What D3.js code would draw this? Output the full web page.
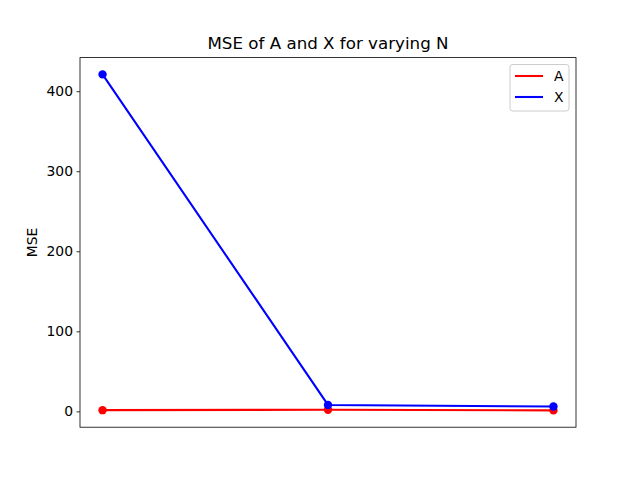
<!DOCTYPE html>
<html><head><meta charset="utf-8">
<script src="https://cdn.jsdelivr.net/npm/d3@7"></script>
<style>body{margin:0;background:#fff}svg{font-family:"DejaVu Sans",sans-serif}</style>
</head><body><svg id="c" width="640" height="480"></svg>
<script>
const nLabels = ["N1","N2","N3"];
const seriesA = [1.5, 2.0, 1.2];
const seriesX = [421, 8, 6];
const yTicks = [0, 100, 200, 300, 400];
const seriesNames = ["A", "X"];
const seriesColors = ["#ff0000", "#0000ff"];

const svg = d3.select("#c");
const L = 80, R = 576, T = 57.6, B = 427.2;
const all = seriesA.concat(seriesX);
const mn = d3.min(all), mx = d3.max(all), pad = (mx - mn) * 0.05;
const x = d3.scaleLinear().domain([-0.1, nLabels.length - 1 + 0.1]).range([L, R]);
const y = d3.scaleLinear().domain([mn - pad, mx + pad]).range([B, T]);

const yAxis = d3.axisLeft(y).tickValues(yTicks).tickSize(3.5).tickPadding(3.5);
const ga = svg.append("g").attr("transform", `translate(${L},0)`).call(yAxis);
ga.select(".domain").remove();
ga.selectAll("text").attr("font-size", "13.9px").attr("fill", "#000").attr("font-family", "DejaVu Sans");
ga.selectAll("line").attr("stroke", "#000").attr("stroke-width", 0.8);

const data = [seriesA, seriesX];
const line = d3.line().x((d, i) => x(i)).y(d => y(d));
data.forEach((s, k) => {
  svg.append("path").datum(s).attr("d", line).attr("fill", "none")
    .attr("stroke", seriesColors[k]).attr("stroke-width", 2.08);
  svg.selectAll(null).data(s).enter().append("circle")
    .attr("cx", (d, i) => x(i)).attr("cy", d => y(d)).attr("r", 4.2)
    .attr("fill", seriesColors[k]);
});

svg.append("rect").attr("x", L).attr("y", T).attr("width", R - L).attr("height", B - T)
  .attr("fill", "none").attr("stroke", "#000").attr("stroke-width", 0.8);

svg.append("text").attr("x", (L + R) / 2).attr("y", 49).attr("text-anchor", "middle")
  .attr("font-size", "16.7px").text("MSE of A and X for varying N");
svg.append("text").attr("transform", `translate(37,${(T + B) / 2}) rotate(-90)`)
  .attr("text-anchor", "middle").attr("font-size", "13.9px").text("MSE");

// legend
const lg = svg.append("g");
lg.append("rect").attr("x", 510).attr("y", 64.5).attr("width", 59).attr("height", 46.5)
  .attr("rx", 2.8).attr("fill", "rgba(255,255,255,0.8)").attr("stroke", "#cccccc").attr("stroke-width", 1);
seriesNames.forEach((n, k) => {
  const yy = 76 + k * 21;
  lg.append("line").attr("x1", 515).attr("x2", 543).attr("y1", yy).attr("y2", yy)
    .attr("stroke", seriesColors[k]).attr("stroke-width", 2.08);
  lg.append("text").attr("x", 554).attr("y", yy + 5).attr("font-size", "13.9px").text(n);
});
</script></body></html>
